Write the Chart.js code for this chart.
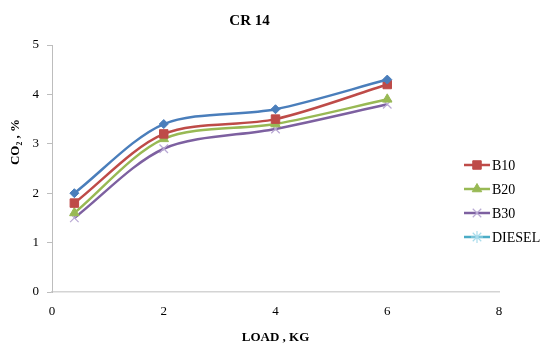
<!DOCTYPE html>
<html>
<head>
<meta charset="utf-8">
<script src="https://cdn.jsdelivr.net/npm/chart.js@4"></script>
<style>
  html, body { margin: 0; padding: 0; background: #fff; }
  #wrap { width: 542px; height: 349px; }
</style>
</head>
<body>
<div id="wrap"><canvas id="myChart" width="542" height="349"></canvas></div>
<script>
// data
var loads = [0.4, 2, 4, 6];
var series0 = [2.0, 3.4, 3.7, 4.3];   // blue, no legend entry
var b10 = [1.8, 3.2, 3.5, 4.2];
var b20 = [1.6, 3.1, 3.4, 3.9];
var b30 = [1.5, 2.9, 3.3, 3.8];
var diesel = [];
var xTicks = [0, 2, 4, 6, 8];
var yTicks = [0, 1, 2, 3, 4, 5];

function pts(ys) {
  return ys.map(function(y, i) { return { x: loads[i], y: y }; });
}

var serif = "'Liberation Serif', 'Times New Roman', serif";

// draws the legend on the right and the y axis title
var extras = {
  id: 'extras',
  afterDraw: function(chart) {
    var ctx = chart.ctx;
    ctx.save();
    // y title
    ctx.translate(16, 142);
    ctx.rotate(-Math.PI / 2);
    ctx.fillStyle = '#000';
    ctx.font = 'bold 13px ' + serif;
    ctx.textAlign = 'center';
    ctx.textBaseline = 'middle';
    ctx.fillText('CO\u2082 , %', 0, 0);
    ctx.restore();

    // legend
    var items = chart.data.datasets.filter(function(d) { return d.label; });
    items.forEach(function(d, i) {
      var y = 165 + i * 24;
      ctx.save();
      ctx.strokeStyle = d.borderColor;
      ctx.lineWidth = 2.5;
      ctx.beginPath();
      ctx.moveTo(464, y);
      ctx.lineTo(490, y);
      ctx.stroke();
      ctx.fillStyle = d.pointBackgroundColor;
      ctx.strokeStyle = d.pointBorderColor;
      ctx.lineWidth = d.pointBorderWidth || 1;
      Chart.helpers.drawPoint(ctx, {
        pointStyle: d.pointStyle,
        radius: d.pointRadius,
        borderWidth: d.pointBorderWidth || 1,
        rotation: 0
      }, 477, y);
      ctx.fillStyle = '#000';
      ctx.font = '14px ' + serif;
      ctx.textBaseline = 'middle';
      ctx.fillText(d.label, 492, y + 1);
      ctx.restore();
    });
  }
};

function line(label, ys, color, style, radius, fill, bw) {
  return {
    label: label,
    data: pts(ys),
    showLine: true,
    borderColor: color,
    borderWidth: 2.5,
    tension: 0.3,
    pointStyle: style,
    pointRadius: radius,
    pointBackgroundColor: fill,
    pointBorderColor: fill,
    pointBorderWidth: bw
  };
}

var ctx = document.getElementById('myChart').getContext('2d');
var chart = new Chart(ctx, {
  type: 'scatter',
  data: {
    datasets: [
      line('', series0, '#4a7ebb', 'rectRot', 4.5, '#4a7ebb', 1),
      line('B10', b10, '#be4b48', 'rect', 6, '#be4b48', 1),
      line('B20', b20, '#98b954', 'triangle', 5.5, '#98b954', 1),
      line('B30', b30, '#7d60a0', 'crossRot', 6, '#b9a9d4', 1.2),
      line('DIESEL', diesel, '#4bacc6', 'star', 6, '#a9dcec', 1.2)
    ]
  },
  options: {
    responsive: false,
    animation: false,
    layout: { padding: { left: 0, right: 43, top: 0, bottom: 0 } },
    plugins: {
      legend: { display: false },
      tooltip: { enabled: false },
      title: {
        display: true,
        text: 'CR 14',
        color: '#000',
        font: { family: serif, size: 15, weight: 'bold' },
        padding: { top: 12, bottom: 15 }
      }
    },
    scales: {
      x: {
        type: 'linear',
        min: 0, max: 8,
        afterFit: function(s) { s.height = 57; },
        afterBuildTicks: function(s) { s.ticks = xTicks.map(function(v) { return { value: v }; }); },
        border: { color: '#d4d4d4', width: 1.5 },
        grid: { display: true, drawOnChartArea: false, drawTicks: false },
        ticks: { color: '#000', padding: 12, font: { family: serif, size: 13 } },
        title: {
          display: true,
          text: 'LOAD , KG',
          color: '#000',
          font: { family: serif, size: 13, weight: 'bold' },
          padding: { top: 10, bottom: 4 }
        }
      },
      y: {
        min: 0, max: 5,
        afterFit: function(s) { s.width = 52; },
        afterBuildTicks: function(s) { s.ticks = yTicks.map(function(v) { return { value: v }; }); },
        border: { color: '#bdbdbd', width: 1 },
        grid: { display: true, drawOnChartArea: false, drawTicks: true, tickLength: 5, color: '#bdbdbd' },
        ticks: { color: '#000', padding: 8, font: { family: serif, size: 13 } }
      }
    }
  },
  plugins: [extras]
});
</script>
</body>
</html>
